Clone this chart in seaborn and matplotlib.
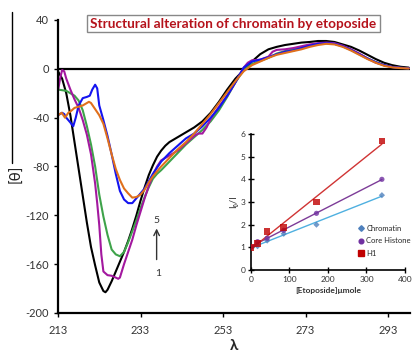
import numpy as np
import pandas as pd
import matplotlib
matplotlib.use("Agg")
import matplotlib.pyplot as plt
from matplotlib.lines import Line2D
import seaborn as sns

sns.set_style("white")
plt.rcParams['font.family'] = ['Lato', 'DejaVu Sans']

# ---------------- main CD spectra (wavelength, ellipticity) ----------------
black_lam = [213, 214, 215, 216, 217, 218, 219, 220, 221, 222, 223, 224, 224.5, 225, 226, 227, 228, 229,
             230, 231, 232, 233, 234, 235, 236, 237, 238, 239, 240, 242, 244, 246, 248, 250, 252, 254,
             256, 258, 260, 262, 264, 266, 268, 270, 272, 274, 276, 278, 280, 282, 284, 286, 288, 290,
             292, 294, 296, 298]
black_val = [-2, -8, -20, -38, -60, -82, -104, -126, -146, -161, -175, -182, -183, -181, -174, -166, -158, -150,
             -141, -131, -120, -108, -97, -87, -79, -72, -67, -63, -60, -56, -52, -48, -43, -36, -27, -17,
             -8, -1, 6, 12, 16, 18, 19.5, 20.5, 21.5, 22, 22.8, 22.8, 22, 20, 18, 15, 11.5, 8,
             5, 3, 1.7, 1]

purple_lam = [213, 213.5, 214, 214.5, 215, 216, 217, 218, 219, 220, 221, 222, 222.5, 223, 223.5, 224, 225, 226,
              227, 227.6, 228, 229, 230, 231, 232, 233, 234, 235, 236, 237, 238, 240, 242, 244, 246, 247,
              248, 249, 250, 252, 254, 256, 258, 259, 260, 262, 264, 265, 266, 268, 270, 272, 274, 276,
              278, 280, 282, 284, 286, 288, 290, 292, 294, 296, 298]
purple_val = [-18, -8, -1, -2, -8, -17, -25, -32, -42, -54, -70, -94, -110, -128, -152, -166, -169, -169.5,
              -171, -172, -171, -160, -150, -140, -128, -117, -106, -96, -87, -80, -75, -71, -67, -61, -55, -53,
              -53, -48, -41, -31, -22, -11, 1, 5, 7, 7.5, 10, 14, 15.5, 16, 17, 18.5, 20, 21,
              21.5, 21, 19, 16, 12.5, 8.5, 5, 3, 1.5, 0.8, 0.5]

green_lam = [213, 214, 215, 216, 217, 218, 219, 220, 221, 222, 223, 224, 225, 226, 227, 228, 229, 230,
             231, 232, 233, 234, 235, 236, 237, 238, 240, 242, 244, 246, 248, 250, 252, 254, 256, 258,
             260, 262, 264, 266, 268, 270, 272, 274, 276, 278, 280, 282, 284, 286, 288, 290, 292, 294,
             296, 298]
green_val = [-17, -17.5, -18, -20, -22, -26, -34, -47, -62, -80, -103, -121, -136, -148, -152, -153.5, -150, -142,
             -133, -124, -114, -105, -97, -90, -86, -83, -76, -69, -62, -56, -50, -43, -34, -23, -11, -1,
             4, 6.5, 9, 12.5, 14.5, 16, 17.5, 19, 20.5, 21, 20.5, 18.5, 15.5, 12, 8.5, 5.5, 3, 1.5,
             0.8, 0.5]

blue_lam = [213, 214, 214.5, 215, 216, 216.7, 217.3, 218, 219, 220, 220.7, 221.3, 222, 222.5, 223, 224, 225, 226,
            227, 228, 229, 230, 231, 232, 233, 234, 235, 236, 237, 238, 240, 242, 244, 246, 248, 250,
            252, 254, 256, 258, 260, 262, 264, 266, 268, 270, 272, 274, 276, 278, 280, 282, 284, 286,
            288, 290, 292, 294, 296, 298]
blue_val = [-38, -36, -37, -40, -44, -47, -40, -30, -24, -23, -22, -17, -13, -16, -30, -42, -55, -70,
            -86, -100, -107, -110, -110, -106, -102, -98, -92, -86, -81, -76, -69, -63, -57, -53, -47, -40,
            -32, -22, -11, 1, 6, 7.5, 9.5, 12, 14, 15, 17, 19, 20.5, 21, 20.5, 18.5, 15.5, 12,
            8.5, 5.5, 3, 1.5, 0.8, 0.5]

orange_lam = [213, 213.9, 214.7, 215.5, 216, 217, 218, 219, 220, 220.5, 221, 222, 223, 224, 225, 226, 227, 228,
              229, 230, 231, 232, 233, 234, 235, 236, 237, 238, 240, 242, 244, 246, 248, 250, 252, 254,
              256, 258, 260, 262, 264, 266, 268, 270, 272, 274, 276, 278, 280, 282, 284, 286, 288, 290,
              292, 294, 296, 298]
orange_val = [-38, -36, -40, -36, -35, -32, -31, -30, -28, -27, -28, -33, -38, -45, -57, -70, -82, -91,
              -98, -102, -105.5, -105, -103, -99, -93, -88, -84, -80, -73, -66, -60, -53, -45, -37, -28, -19,
              -10, -2, 3, 6, 9, 11.5, 13, 14.5, 16, 18, 19.5, 20.5, 20, 18, 15, 11.5, 8, 5,
              2.5, 1.2, 0.6, 0.3]

main_xticks = [213, 233, 253, 273, 293]
main_yticks = [40, 0, -40, -80, -120, -160, -200]

# ---------------- inset: quenching vs etoposide ----------------
etoposide = [0, 17, 42, 85, 170, 340]
chromatin_ratio = [1.0, 1.05, 1.3, 1.6, 2.0, 3.3]
core_histone_ratio = [1.0, 1.25, 1.4, 1.75, 2.5, 4.0]
h1_ratio = [1.0, 1.18, 1.7, 1.88, 3.0, 5.7]
inset_xticks = [0, 100, 200, 300, 400]
inset_yticks = [0, 1, 2, 3, 4, 5, 6]

curve_names = ["1", "2", "3", "4", "5"]
curve_colors = ["#000000", "#a3189f", "#3ea34a", "#1414f0", "#e0701c"]
draw_order = ["1", "3", "2", "4", "5"]

frames = []
for name, lam, val in zip(curve_names,
                          [black_lam, purple_lam, green_lam, blue_lam, orange_lam],
                          [black_val, purple_val, green_val, blue_val, orange_val]):
    frames.append(pd.DataFrame({"lam": lam, "val": val, "curve": name}))
df = pd.concat(frames, ignore_index=True)

W, H = 412, 354
fig = plt.figure(figsize=(W / 100, H / 100), dpi=100)
fig.patch.set_facecolor("white")

ax = fig.add_axes([58 / W, (H - 313) / H, (410 - 58) / W, (313 - 20) / H])
ax.set_facecolor("none")
sns.lineplot(data=df, x="lam", y="val", hue="curve", hue_order=draw_order,
             palette=dict(zip(curve_names, curve_colors)), estimator=None, sort=False,
             legend=False, lw=1.5, ax=ax)
ax.axhline(0, color="black", lw=1.6, zorder=1)
ax.set_xlim(213, 298.3)
ax.set_ylim(-200, 40)
ax.set_xticks(main_xticks)
ax.set_yticks(main_yticks)
ax.set_xticklabels([str(t) for t in main_xticks])
ax.set_yticklabels([str(t) for t in main_yticks])
for s in ["top", "right"]:
    ax.spines[s].set_visible(False)
for s in ["left", "bottom"]:
    ax.spines[s].set_color("black")
    ax.spines[s].set_linewidth(1.6)
ax.tick_params(axis="both", which="both", direction="out", length=3, width=1, colors="black",
               labelcolor="#333333", labelsize=8, left=True, bottom=True)
ax.tick_params(axis="x", pad=6)
ax.set_xlabel("λ", fontsize=11, fontweight="bold", labelpad=2)
ax.set_ylabel("")

# arrow 1 -> 5
ax.annotate("", xy=(236.9, -128.5), xytext=(236.9, -158.5),
            arrowprops=dict(arrowstyle="->", color="#333333", lw=1))
ax.text(236.9, -124.5, "5", ha="center", va="center", fontsize=7.5, color="#333333")
ax.text(237.3, -168, "1", ha="center", va="center", fontsize=7.5, color="#333333")

# title box
fig.text(233.5 / W, 1 - 23.5 / H, "Structural alteration of chromatin by etoposide",
         ha="center", va="center", fontsize=9.8, fontweight="bold", color="#b5121b",
         bbox=dict(boxstyle="square,pad=0.22", fc="white", ec="#888888", lw=1))

# y label
fig.text(16 / W, 1 - 174 / H, "[θ]", rotation=90, ha="center", va="center", fontsize=11, color="#222222")
fig.add_artist(Line2D([12 / W, 12 / W], [1 - 12 / H, 1 - 163 / H], color="black", lw=1))

# ---------------- inset ----------------
axin = fig.add_axes([251 / W, (H - 270) / H, (405 - 251) / W, (270 - 134) / H])
axin.set_facecolor("none")
series = [("Chromatin", chromatin_ratio, "D", "#4f81bd", "#4fb0e0", 10),
          ("Core Histone", core_histone_ratio, "o", "#7030a0", "#7d3c98", 14),
          ("H1", h1_ratio, "s", "#c00000", "#d03434", 22)]
handles = []
for name, yv, mk, mc, lc, ms in series:
    sns.regplot(x=np.array(etoposide), y=np.array(yv), ax=axin, ci=None, marker=mk,
                scatter_kws=dict(s=ms, color=mc, edgecolors="none", zorder=3),
                line_kws=dict(color=lc, lw=1))
    handles.append(Line2D([], [], marker=mk, color=mc, ls="none", markersize=np.sqrt(ms) * 0.9, label=name))
axin.set_xlim(0, 400)
axin.set_ylim(0, 6)
axin.set_xticks(inset_xticks)
axin.set_yticks(inset_yticks)
for s in ["top", "right"]:
    axin.spines[s].set_visible(False)
for s in ["left", "bottom"]:
    axin.spines[s].set_color("black")
    axin.spines[s].set_linewidth(1.2)
axin.tick_params(axis="both", direction="inout", length=4, width=1, colors="black",
                 labelcolor="#333333", labelsize=6, left=True, bottom=True, pad=2)
axin.set_xlabel("[Etoposide]μmole", fontsize=6, fontweight="bold", color="#333333", labelpad=3)
axin.set_ylabel("I₀/I", fontsize=7, color="#333333", labelpad=2)
axin.legend(handles=handles, loc="upper left", bbox_to_anchor=(0.67, 0.36), frameon=False,
            fontsize=5.5, handlelength=0.8, handletextpad=0.3, labelspacing=0.7, borderpad=0)

fig.savefig("out.png", dpi=100)
